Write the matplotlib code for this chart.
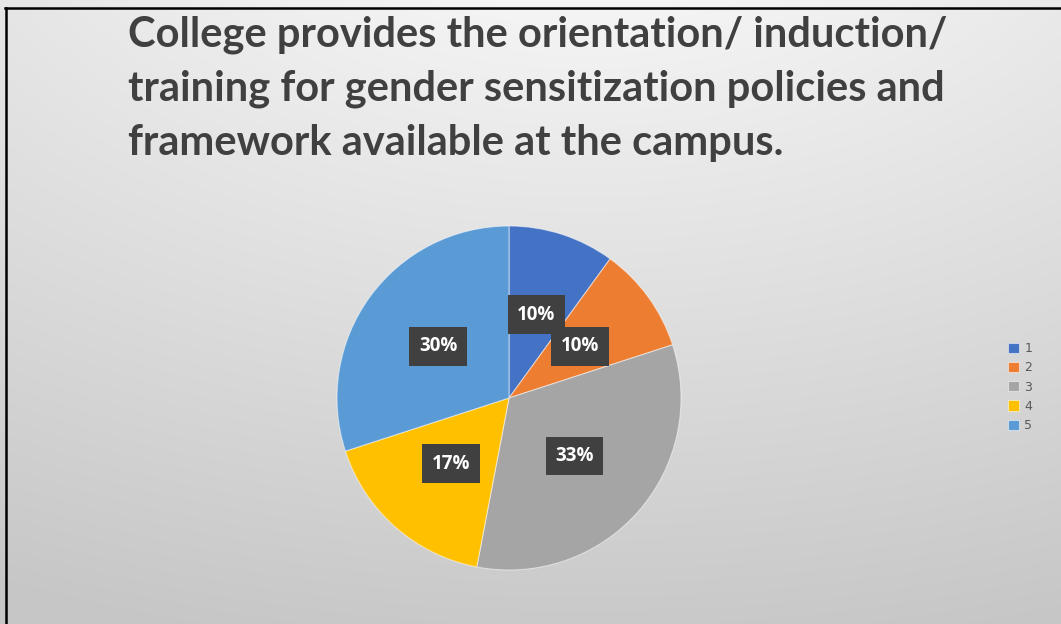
import numpy as np
import matplotlib
matplotlib.use("Agg")
import matplotlib.pyplot as plt
from matplotlib.lines import Line2D

title = ("College provides the orientation/ induction/\n"
         "training for gender sensitization policies and\n"
         "framework available at the campus.")
categories = ["1", "2", "3", "4", "5"]
values = [10, 10, 33, 17, 30]
colors = ["#4472C4", "#ED7D31", "#A5A5A5", "#FFC000", "#5B9BD5"]

W, H = 1061, 624
fig = plt.figure(figsize=(W / 100, H / 100), dpi=100)

# background gradient
bg = fig.add_axes([0, 0, 1, 1], zorder=-10)
yy, xx = np.mgrid[0:H, 0:W]
d = np.sqrt(((xx - W * 0.55) / W) ** 2 + ((yy + 0.25 * H) / H) ** 2)
v = 0.96 - 0.18 * np.clip((d - 0.25) / 1.05, 0, 1)
bg.imshow(np.dstack([v, v, v]), aspect="auto", extent=[0, 1, 0, 1], origin="upper")
bg.set_axis_off()

# border lines (top and left)
fig.add_artist(Line2D([5 / W, 1], [1 - 7.5 / H, 1 - 7.5 / H], color="black", lw=1.8, transform=fig.transFigure))
fig.add_artist(Line2D([5.5 / W, 5.5 / W], [0, 1 - 7.5 / H], color="black", lw=1.8, transform=fig.transFigure))

# title
fig.text(128 / W, 1 - 16 / H, title, ha="left", va="top", fontsize=30, fontweight="bold",
         family="Lato", color="#404040", linespacing=1.5)

# pie
cx, cy, r = 509, 398, 172
ax = fig.add_axes([(cx - r) / W, (H - cy - r) / H, 2 * r / W, 2 * r / H])
wedges, texts, autotexts = ax.pie(values, colors=colors, startangle=90, counterclock=False,
                                  autopct="%1.0f%%", pctdistance=0.51, radius=1,
                                  wedgeprops=dict(linewidth=0.8, edgecolor=(1, 1, 1, 0.5)))
for t in autotexts:
    t.set_color("white")
    t.set_fontweight("bold")
    t.set_fontsize(13.5)
    t.set_family("Open Sans")
    t.set_bbox(dict(boxstyle="square,pad=0.5", fc="#404040", ec="none"))
ax.set_xlim(-1, 1)
ax.set_ylim(-1, 1)

fig.legend(wedges, categories, loc="upper left", bbox_to_anchor=(1008 / W, 1 - 342 / H),
           frameon=False, fontsize=9, labelcolor="#595959", handlelength=0.9, handleheight=0.9,
           handletextpad=0.4, labelspacing=0.5, borderaxespad=0, borderpad=0)

fig.savefig("out.png", dpi=100)
